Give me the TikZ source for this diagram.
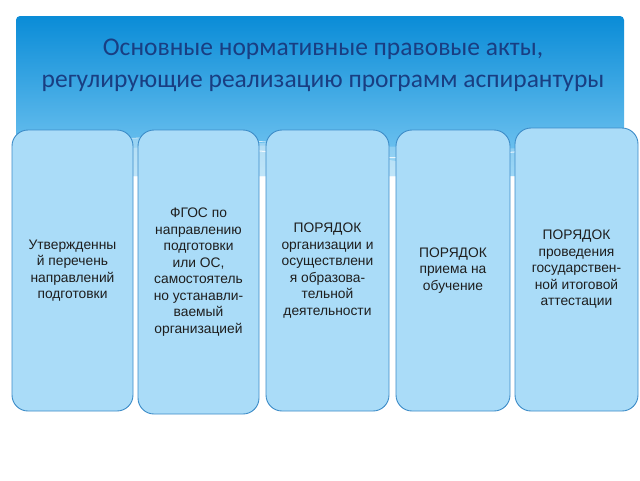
\documentclass[tikz,border=0pt]{standalone}
\usepackage{fontspec}
\setmainfont{Liberation Sans}
\newfontfamily\titlefont{Carlito}
\usetikzlibrary{positioning}

\definecolor{bannerTop}{RGB}{10,140,215}
\definecolor{bannerBot}{RGB}{125,202,243}
\definecolor{titleBlue}{RGB}{25,62,130}
\definecolor{boxFill}{RGB}{170,220,248}
\definecolor{boxLine}{RGB}{60,140,200}
\definecolor{boxText}{RGB}{30,30,30}

\tikzset{
	actbox/.style={draw=boxLine, line width=0.9pt, fill=boxFill, rounded corners=16pt,
		align=center, text=boxText, font=\fontsize{13.8}{16.5}\selectfont, inner sep=1pt},
}

\begin{document}
\begin{tikzpicture}[x=1pt,y=1pt,yscale=-1,xscale=1]
	\useasboundingbox (0,0) rectangle (640,480);
	\fill[white] (0,0) rectangle (640,480);
	
	%Shape: Banner [id:banner]
	\shade[top color=bannerTop, bottom color=bannerBot, rounded corners=4pt] (16,16) rectangle (624,176);
	%Shape: Swoosh
	\fill[white, fill opacity=0.35] (16,152) .. controls (90,132) and (260,132) .. (420,166) -- (420,176) -- (16,176) -- cycle ;
	\fill[white, fill opacity=0.25] (16,160) .. controls (120,140) and (280,145) .. (624,150) -- (624,176) -- (16,176) -- cycle ;
	\draw[white, line width=1pt, opacity=0.8] (250,150) .. controls (420,168) and (520,150) .. (624,142) ;
	\draw[white, line width=0.8pt, opacity=0.7] (30,150) .. controls (110,132) and (240,135) .. (330,150) ;
	
	%Title
	\node[font=\titlefont\fontsize{25.5}{32}\selectfont, text=titleBlue, align=center] (title) at (323,65)
		{Основные нормативные правовые акты,\\регулирующие реализацию программ аспирантуры};
	
	%Boxes
	\node[actbox, minimum width=121, minimum height=281] (list) at (72.5,270.5)
		{Утвержденны\\й перечень\\направлений\\подготовки};
	\node[actbox, minimum width=121, minimum height=284] (fgos) at (198.5,272)
		{ФГОС по\\направлению\\подготовки\\или ОС,\\самостоятель\\но устанавли-\\ваемый\\организацией};
	\node[actbox, minimum width=123, minimum height=281] (org) at (327.5,270.5)
		{ПОРЯДОК\\организации и\\осуществлени\\я образова-\\тельной\\деятельности};
	\node[actbox, minimum width=114, minimum height=281] (admit) at (453,270.5)
		{ПОРЯДОК\\приема на\\обучение};
	\node[actbox, minimum width=123, minimum height=283] (gia) at (576.5,269.5)
		{ПОРЯДОК\\проведения\\государствен-\\ной итоговой\\аттестации};
	
\end{tikzpicture}
\end{document}
